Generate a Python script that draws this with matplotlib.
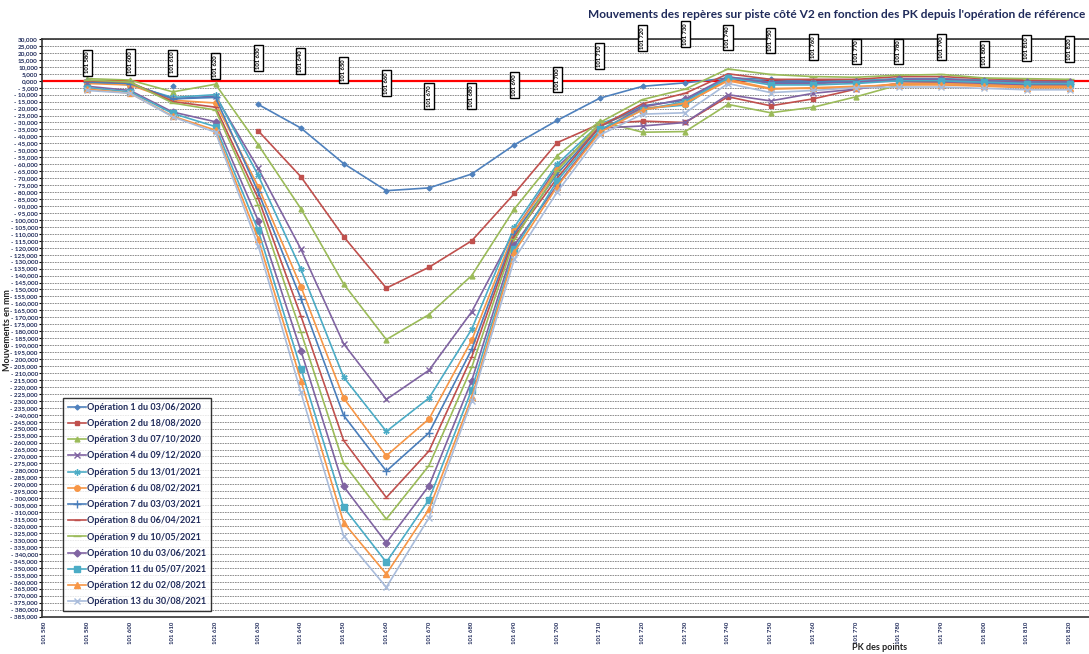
import numpy as np
import matplotlib
matplotlib.use("Agg")
import matplotlib.pyplot as plt

nan = np.nan

# PK of each survey point (category axis)
pk_points = ['101 580', '101 600', '101 610', '101 620', '101 630', '101 640',
             '101 650', '101 660', '101 670', '101 680', '101 690', '101 700',
             '101 710', '101 720', '101 730', '101 740', '101 750', '101 760',
             '101 770', '101 780', '101 790', '101 800', '101 810', '101 820']
axis_labels = ['101 580'] + pk_points
# height (mm) where each PK tag is drawn
tag_heights = [13, 13.3, 13, 10.4, 16.2, 14, 7.5, -1.8, -11, -11, -3.2, 1,
               17.6, 30.6, 33.5, 31, 29, 24, 21, 21, 24, 19, 23.4, 22.7]

operations = ['Opération 1 du 03/06/2020', 'Opération 2 du 18/08/2020',
              'Opération 3 du 07/10/2020', 'Opération 4 du 09/12/2020',
              'Opération 5 du 13/01/2021', 'Opération 6 du 08/02/2021',
              'Opération 7 du 03/03/2021', 'Opération 8 du 06/04/2021',
              'Opération 9 du 10/05/2021', 'Opération 10 du 03/06/2021',
              'Opération 11 du 05/07/2021', 'Opération 12 du 02/08/2021',
              'Opération 13 du 30/08/2021']

op1 = [nan, nan, -3.5, nan, -17, -34, -59.5, -79, -77, -67, -46, -28.5, -12.5, -4, -1.5, 2, 1, -0.5, 0, 1.5, 1.5, 0.5, -0.5, -0.5]
op2 = [nan, nan, nan, nan, -36, -69, -112, -149, -134, -115, -81, -44.5, -31, -29, -30, -11.5, -18, -13, -6, -2, -1.5, -2, -3, -3]
op3 = [1.5, 0.5, -8, -2.5, -46, -92, -146, -186, -168, -140, -92, -54, -29, -37, -36.5, -17, -23, -19, -11.5, -3, -2, -3, -4, -4]
op4 = [-1, -2, -13, -11, -63, -121, -189, -229, -208, -166, -108, -62, -34, -32.5, -30, -10, -14.5, -9, -6, -2, -1.5, -2, -3, -3]
op5 = [-1, -3, -12, -10, -68, -135.5, -213, -252, -228, -178.5, -105, -60, -31, -20, -17.5, 2.5, -1, -1, 0, 1, 1, 0, -1, -1]
op6 = [-2, -3, -14, -16, -76, -148, -228, -269.5, -243, -186.5, -108, -64, -32, -20, -16.5, 1, -5.5, -5.5, -5, -2, -2, -3, -4, -4]
op7 = [-1, -2, -13, -12, -80, -156.5, -240.5, -280.5, -253, -193, -110, -67, -33, -18, -14, 2, -1, -1, -1, 0, 0, -1, -2, -2]
op8 = [0, -1, -15, -19, -84.5, -169, -258.5, -299.5, -266, -198.5, -112, -70, -33, -16.5, -9, 5, 1, 1, 1, 3, 3, 1.5, 0.5, 0]
op9 = [0.5, -1, -16, -21, -89.5, -180.5, -275, -315, -276.5, -206, -114, -65, -30, -13.5, -6, 8.5, 4.5, 3, 2.5, 4, 4.5, 2, 1.5, 1]
op10 = [-4, -7, -22.5, -29.5, -100.5, -194, -291.5, -332, -291, -215.5, -118, -75, -36, -19, -13, 3, -2, -2, -1, 1, 1, 0, -1, -1]
op11 = [-5, -8, -23.5, -33, -107.5, -207, -306.5, -346, -301, -222, -121, -72, -35, -21, -15, 2, -3, -3, -2, 0, 0, -1, -2, -2]
op12 = [-6, -9, -25.5, -35.5, -113.5, -215.5, -317.5, -354.5, -308, -227.5, -123, -76, -37, -21, -16, 0, -6, -5, -4, -3, -3, -4, -5, -5]
op13 = [-7, -9, -26, -37, -118.5, -224, -327, -364, -314, -230, -128, -80, -39, -24, -23, -2, -8.5, -7, -5, -4.5, -4.5, -5.5, -6.5, -6.5]

series = [op1, op2, op3, op4, op5, op6, op7, op8, op9, op10, op11, op12, op13]

# Excel 2007 palette and marker cycle
colors = ['#4F81BD', '#C0504D', '#9BBB59', '#8064A2', '#4BACC6', '#F79646',
          '#4A7EBB', '#C0504D', '#9BBB59', '#8064A2', '#4BACC6', '#F79646', '#A9BCDB']
markers = ['D', 's', '^', 'x', (6, 2, 0), 'o', '+', '_', '_', 'D', 's', '^', 'x']
msizes = [2.5, 3.5, 3.5, 4, 4.5, 4, 5.5, 4, 6, 3.5, 4, 4, 4]

plt.rcParams['font.family'] = ['Lato', 'DejaVu Sans']
txt_col = '#1F2A5A'

fig = plt.figure(figsize=(10.89, 6.54), dpi=100)
# axis runs on past the right edge of the picture, like the cropped original
ax = fig.add_axes([42 / 1089, 1 - 616.5 / 654, 1.041 - 42 / 1089, (616.5 - 39) / 654])

x = np.arange(len(pk_points))
for vals, name, c, m, ms in zip(series, operations, colors, markers, msizes):
    ax.plot(x, vals, color=c, lw=1.2, marker=m, ms=ms, mec=c, mfc=c,
            mew=1.0, label=name, zorder=3)

ax.axhline(0, color='#FF0000', lw=1.6, zorder=2)

ax.set_xlim(-1.063, 24.5)
ax.set_ylim(-385, 30)

yt = np.arange(-385, 31, 5)
ax.set_yticks(yt)
ax.set_yticklabels([f"{v:.3f}".replace('.', ',') if v >= 0 else
                    "- " + f"{-v:.3f}".replace('.', ',') for v in yt],
                   fontsize=4.6, color=txt_col, fontweight='bold')
ax.yaxis.grid(True, linestyle=(0, (2, 1)), color='#7F7F7F', lw=0.6)
ax.tick_params(axis='y', length=2, width=0.8, pad=1)

ax.set_xticks(np.arange(-1, len(pk_points)))
ax.set_xticklabels(axis_labels, rotation=90, fontsize=4.3, color=txt_col, fontweight='bold')
ax.tick_params(axis='x', length=0, pad=4)

for s in ['left', 'bottom', 'top']:
    ax.spines[s].set_linewidth(1.2)
    ax.spines[s].set_color('#333333')

# PK tags above the curves
for i, (lab, h) in enumerate(zip(pk_points, tag_heights)):
    ax.text(i, h, lab, rotation=90, ha='center', va='center', fontsize=4.2,
            fontweight='bold', color='black', zorder=5,
            bbox=dict(boxstyle='square,pad=0.35', fc='white', ec='black', lw=1.0))

leg = ax.legend(loc='lower left', bbox_to_anchor=(63 / 1089, 1 - 611 / 654),
                bbox_transform=fig.transFigure, fontsize=6.5, frameon=True,
                fancybox=False, edgecolor='black', labelspacing=0.8,
                handlelength=2.0, handletextpad=0.2, borderpad=0.5, borderaxespad=0)
leg.get_frame().set_linewidth(1.0)
for t in leg.get_texts():
    t.set_color(txt_col)
    t.set_fontweight('bold')

fig.text(588 / 1089, 1 - 14 / 654,
         "Mouvements des repères sur piste côté V2 en fonction des PK depuis l'opération de référence",
         ha='left', va='center', fontsize=8.6, fontweight='bold', color='#1F2A5A')
fig.text(8 / 1089, 1 - 330 / 654, "Mouvements en mm", rotation=90,
         ha='center', va='center', fontsize=6.5, fontweight='bold', color='#222222')
fig.text(880 / 1089, 1 - 647 / 654, "PK des points", ha='center', va='center',
         fontsize=6.5, fontweight='bold', color='#222222')

fig.savefig('out.png', dpi=100)
